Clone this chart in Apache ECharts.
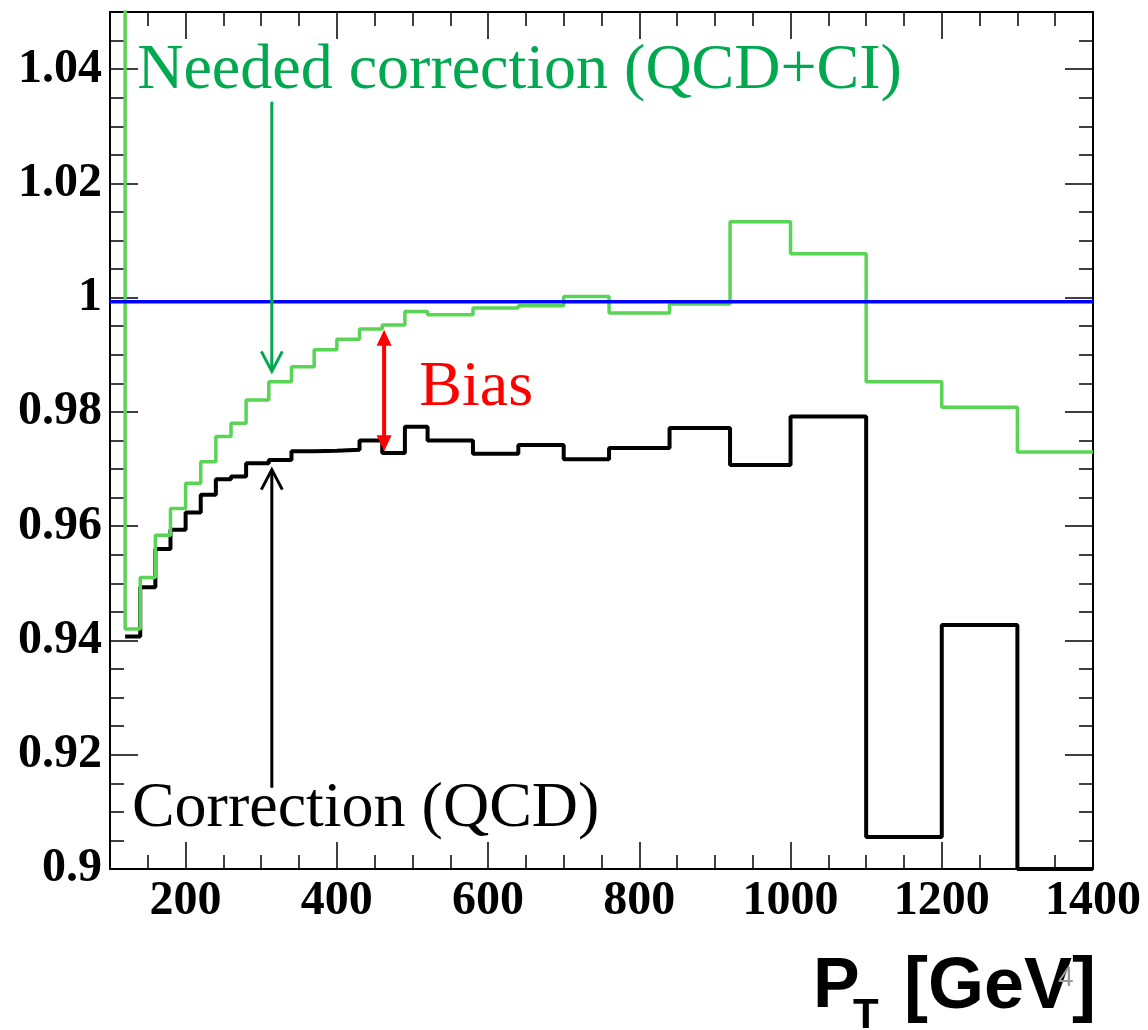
<!DOCTYPE html>
<html>
<head>
<meta charset="utf-8">
<script src="https://cdn.jsdelivr.net/npm/echarts@6/dist/echarts.min.js"></script>
<style>
  html, body { margin: 0; padding: 0; background: #fff; }
  #chart-container { width: 1148px; height: 1030px; }
</style>
</head>
<body>
<div id="chart-container"></div>
<script>
// histogram bin edges (GeV)
var binEdges = [100, 120, 140, 160, 180, 200, 220, 240, 260, 280, 310, 340, 370, 400, 430, 460,
  490, 520, 580, 640, 700, 760, 840, 920, 1000, 1100, 1200, 1300, 1400];

// needed correction (QCD+CI), first bin is off scale
var neededCorr = [1.10, 0.9420, 0.9510, 0.9584, 0.9631, 0.9675, 0.9713, 0.9757, 0.9780, 0.9821,
  0.9853, 0.9879, 0.9909, 0.9927, 0.9945, 0.9952, 0.9976, 0.9970, 0.9982, 0.9986, 1.0002,
  0.9973, 0.9989, 1.0133, 1.0077, 0.9853, 0.9808, 0.9730];

// correction (QCD), nothing in first bin
var qcdCorr = [null, 0.9407, 0.9493, 0.9560, 0.9594, 0.9624, 0.9655, 0.9682, 0.9687, 0.9710,
  0.9716, 0.9731, 0.9732, 0.9734, 0.9750, 0.9728, 0.9774, 0.9750, 0.9727, 0.9742, 0.9717,
  0.9737, 0.9772, 0.9707, 0.9792, 0.9056, 0.9427, 0.9000];

var unityLevel = 0.9993;

var xTickLabels = [200, 400, 600, 800, 1000, 1200, 1400];
var yTickLabels = [0.9, 0.92, 0.94, 0.96, 0.98, 1.0, 1.02, 1.04];

// minor ticks
var xMinor = [];
for (var v = 150; v < 1400; v += 50) {
  if (v % 200 != 0) xMinor.push(v);
}
var yMinor = [];
for (var k = 181; k <= 210; k++) {
  if (k % 4 != 0) yMinor.push(+(k * 0.005).toFixed(3));
}

function histPoints(edges, vals) {
  var pts = [];
  for (var i = 0; i < vals.length; i++) {
    if (vals[i] == null) continue;
    pts.push([edges[i], vals[i]]);
  }
  pts.push([edges[edges.length - 1], vals[vals.length - 1]]);
  return pts;
}

var labelFont = {
  fontFamily: "Liberation Serif",
  fontWeight: "bold",
  fontSize: 48,
  color: "#000",
};

function xAx(pos, ticks, len, withLine, withLabels) {
  return {
    type: "value",
    position: pos,
    min: 100,
    max: 1400,
    axisLine: { show: withLine, onZero: false, lineStyle: { color: "#000", width: 2 } },
    axisTick: { show: true, inside: true, length: len, customValues: ticks,
      lineStyle: { color: "#000", width: 1.5 } },
    axisLabel: withLabels
      ? Object.assign({
          show: true, customValues: ticks, margin: 9,
          formatter: function (val) { return String(val); },
        }, labelFont)
      : { show: false },
    splitLine: { show: false },
  };
}

function yAx(pos, ticks, len, withLine, withLabels) {
  return {
    type: "value",
    position: pos,
    min: 0.9,
    max: 1.05,
    axisLine: { show: withLine, onZero: false, lineStyle: { color: "#000", width: 2 } },
    axisTick: { show: true, inside: true, length: len, customValues: ticks,
      lineStyle: { color: "#000", width: 1.5 } },
    axisLabel: withLabels
      ? Object.assign({
          show: true, customValues: ticks, margin: 8, padding: [18, 0, 0, 0],
          formatter: function (val) { return String(+val.toFixed(2)); },
        }, labelFont)
      : { show: false },
    splitLine: { show: false },
  };
}

var dom = document.getElementById("chart-container");
var myChart = echarts.init(dom, null, { renderer: "canvas" });

var option = {
  animation: false,
  backgroundColor: "#fff",
  grid: { left: 110, right: 55, top: 12, bottom: 161 },
  xAxis: [
    xAx("bottom", xTickLabels, 27, true, true),
    xAx("bottom", xMinor, 14, false, false),
    xAx("top", xTickLabels, 27, true, false),
    xAx("top", xMinor, 14, false, false),
  ],
  yAxis: [
    yAx("left", yTickLabels, 28, true, true),
    yAx("left", yMinor, 14, false, false),
    yAx("right", yTickLabels, 28, true, false),
    yAx("right", yMinor, 14, false, false),
  ],
  series: [
    {
      name: "Correction (QCD)",
      type: "line",
      step: "end",
      showSymbol: false,
      clip: true,
      lineStyle: { color: "#000", width: 4 },
      data: histPoints(binEdges, qcdCorr),
    },
    {
      name: "Needed correction (QCD+CI)",
      type: "line",
      step: "end",
      showSymbol: false,
      clip: true,
      lineStyle: { color: "#59d454", width: 3.5 },
      data: histPoints(binEdges, neededCorr),
    },
    {
      name: "unity",
      type: "line",
      showSymbol: false,
      lineStyle: { color: "#0000ff", width: 3.5 },
      data: [[100, unityLevel], [1400, unityLevel]],
    },
  ],
};

myChart.setOption(option);

// annotations, placed in data coordinates
var greenArrow = { x: 314, from: 1.0343, to: 0.9871 };
var blackArrow = { x: 314, from: 0.9142, to: 0.9699 };
var biasArrow = { x: 462.5, top: 0.9944, bottom: 0.9731 };

function px(x, y) {
  return myChart.convertToPixel({ xAxisIndex: 0, yAxisIndex: 0 }, [x, y]);
}

function openArrow(a, color) {
  var p0 = px(a.x, a.from);
  var p1 = px(a.x, a.to);
  var dir = p1[1] > p0[1] ? -1 : 1;
  return [
    { type: "line", z: 10, shape: { x1: p0[0], y1: p0[1], x2: p1[0], y2: p1[1] },
      style: { stroke: color, lineWidth: 3 } },
    { type: "polyline", z: 10,
      shape: { points: [[p1[0] - 10.5, p1[1] + dir * 20], [p1[0], p1[1]], [p1[0] + 10.5, p1[1] + dir * 20]] },
      style: { stroke: color, lineWidth: 3, fill: null } },
  ];
}

var bt = px(biasArrow.x, biasArrow.top);
var bb = px(biasArrow.x, biasArrow.bottom);
var red = "#ff0000";

function textAt(str, x, y, color) {
  var p = px(x, y);
  return {
    type: "text", z: 10, x: p[0], y: p[1],
    style: { text: str, fill: color, fontFamily: "Liberation Serif", fontSize: 64,
      align: "left", verticalAlign: "middle" },
  };
}

var graphics = []
  .concat(openArrow(greenArrow, "#00a84f"))
  .concat(openArrow(blackArrow, "#000"))
  .concat([
    { type: "line", z: 10, shape: { x1: bt[0], y1: bt[1] + 14, x2: bb[0], y2: bb[1] - 14 },
      style: { stroke: red, lineWidth: 4 } },
    { type: "polygon", z: 10,
      shape: { points: [[bt[0], bt[1]], [bt[0] - 7.5, bt[1] + 16], [bt[0] + 7.5, bt[1] + 16]] },
      style: { fill: red } },
    { type: "polygon", z: 10,
      shape: { points: [[bb[0], bb[1]], [bb[0] - 7.5, bb[1] - 16], [bb[0] + 7.5, bb[1] - 16]] },
      style: { fill: red } },
    textAt("Needed correction (QCD+CI)", 136, 1.0396, "#00a84f"),
    textAt("Bias", 509, 0.9842, red),
    textAt("Correction (QCD)", 129, 0.9105, "#000"),
    // axis title
    { type: "text", z: 10, x: 813, y: 988,
      style: { text: "P", fill: "#000", fontFamily: "Liberation Sans", fontWeight: "bold",
        fontSize: 70, align: "left", verticalAlign: "middle" } },
    { type: "text", z: 10, x: 853, y: 1016,
      style: { text: "T", fill: "#000", fontFamily: "Liberation Sans", fontWeight: "bold",
        fontSize: 42, align: "left", verticalAlign: "middle" } },
    { type: "text", z: 10, x: 1096, y: 988,
      style: { text: "[GeV]", fill: "#000", fontFamily: "Liberation Sans", fontWeight: "bold",
        fontSize: 72, align: "right", verticalAlign: "middle" } },
    { type: "text", z: 11, x: 1058, y: 978,
      style: { text: "4", fill: "#999", fontFamily: "Liberation Sans",
        fontSize: 28, align: "left", verticalAlign: "middle" } },
  ]);

myChart.setOption({ graphic: graphics });

window.addEventListener("resize", myChart.resize);
</script>
</body>
</html>
